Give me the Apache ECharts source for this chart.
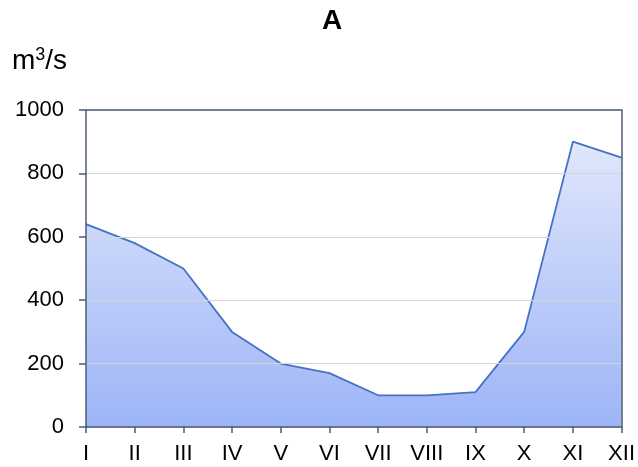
<!DOCTYPE html>
<html><head><meta charset="utf-8">
<script src="https://cdn.jsdelivr.net/npm/echarts@6/dist/echarts.min.js"></script>
<style>html,body{margin:0;padding:0;background:#fff}#c{width:638px;height:467px}</style>
</head><body><div id="c"></div>
<script>
const categories = ['I','II','III','IV','V','VI','VII','VIII','IX','X','XI','XII'];
const flow = [640, 580, 500, 300, 200, 170, 100, 100, 110, 300, 900, 850];
const yTicks = { min: 0, max: 1000, interval: 200 };

const chart = echarts.init(document.getElementById('c'));
const axisColor = '#4d5b75';
const FF = 'Liberation Sans';
chart.setOption({
  animation: false,
  title: { text: 'A', left: 322, top: 7, padding: 0,
    textStyle: { fontFamily: FF, fontSize: 28, fontWeight: 'bold', color: '#000' } },
  graphic: [{ type: 'text', left: 12, top: 46, z: 10,
    style: { text: 'm{s|3}/s', fontFamily: FF, fontSize: 28, fill: '#000',
      rich: { s: { fontSize: 18, verticalAlign: 'top', padding: [0,0,12,0], fontFamily: FF } } } }],
  grid: { left: 86, right: 15, top: 110, bottom: 40, show: false },
  xAxis: [{ type: 'category', data: categories, boundaryGap: false, z: 5,
    axisLine: { onZero: false, lineStyle: { color: axisColor, width: 1.5 } },
    axisTick: { alignWithLabel: true, length: 6, lineStyle: { color: axisColor, width: 1.5 } },
    axisLabel: { color: '#000', fontSize: 22, fontFamily: FF, margin: 16, interval: 0 },
    splitLine: { show: false } },
    { type: 'category', data: categories, boundaryGap: false, position: 'top', z: 5,
    axisLine: { show: true, onZero: false, lineStyle: { color: axisColor, width: 1.5 } },
    axisTick: { show: false }, axisLabel: { show: false }, splitLine: { show: false } }],
  yAxis: [{ type: 'value', min: yTicks.min, max: yTicks.max, interval: yTicks.interval, z: 5,
    axisLine: { show: true, onZero: false, lineStyle: { color: axisColor, width: 1.5 } },
    axisTick: { show: true, length: 7, lineStyle: { color: axisColor, width: 1.5 } },
    axisLabel: { color: '#000', fontSize: 22, fontFamily: FF, margin: 22, formatter: v => String(v) },
    splitLine: { lineStyle: { color: '#d4d4d4', width: 1.2 } } },
    { type: 'value', min: yTicks.min, max: yTicks.max, interval: yTicks.interval, position: 'right', z: 5,
    axisLine: { show: true, onZero: false, lineStyle: { color: axisColor, width: 1.5 } },
    axisTick: { show: false }, axisLabel: { show: false }, splitLine: { show: false } }],
  series: [{ type: 'line', data: flow, symbol: 'none',
    lineStyle: { color: '#4472c4', width: 1.8 },
    areaStyle: { opacity: 1, color: new echarts.graphic.LinearGradient(0, 0, 0, 1, [
      { offset: 0, color: '#e0e7fc' }, { offset: 1, color: '#9db4f7' }]) } }]
});
</script></body></html>
